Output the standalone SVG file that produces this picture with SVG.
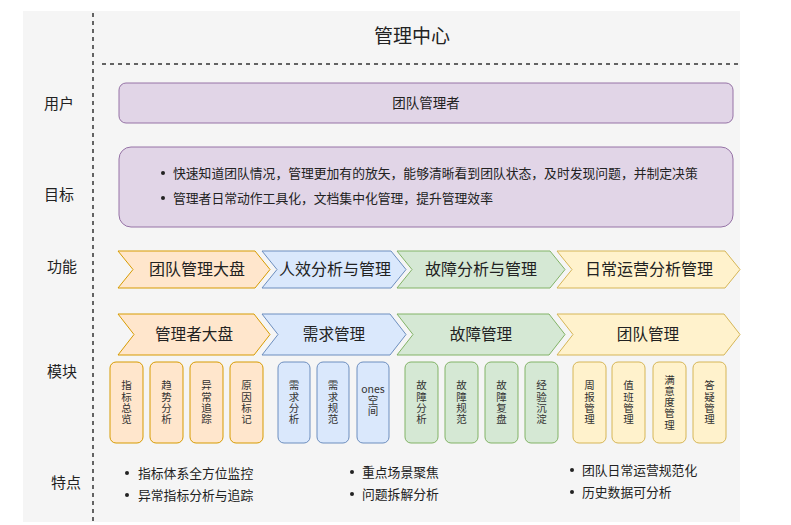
<svg xmlns="http://www.w3.org/2000/svg" width="791" height="525" viewBox="0 0 791 525">
<style>
text{font-family:"Noto Sans CJK SC","Noto Sans",sans-serif;fill:#222}
.lbl{font-size:15px;text-anchor:middle}
.fn{font-size:16px;text-anchor:middle}
.md{font-size:15.6px;text-anchor:middle}
.sm{font-size:10.5px;text-anchor:middle;fill:#333}
.v{font-size:10.5px;fill:#333;writing-mode:vertical-rl;text-anchor:middle;letter-spacing:0.7px}
.ft{font-size:12.8px}
.or{fill:#ffe6cc;stroke:#d79b00;stroke-width:1}
.bl{fill:#dae8fc;stroke:#6c8ebf;stroke-width:1}
.gr{fill:#d5e8d4;stroke:#82b366;stroke-width:1}
.ye{fill:#fff2cc;stroke:#d6b656;stroke-width:1}
.pu{fill:#e1d5e7;stroke:#9673a6;stroke-width:1}
.dash{stroke:#333;stroke-width:1.5;stroke-dasharray:4 4;fill:none}
</style>
<rect x="23" y="11" width="717" height="511" fill="#f5f5f5"/>
<g id="separators">
<line class="dash" x1="93" y1="13" x2="93" y2="525"/>
<line class="dash" x1="102" y1="64" x2="740" y2="64"/>
</g>
<g id="connectors"/>
<g id="title"><text x="412" y="43" style="font-size:19px" text-anchor="middle">管理中心</text></g>
<g id="row-labels">
<text class="lbl" x="59" y="109">用户</text>
<text class="lbl" x="59" y="200">目标</text>
<text class="lbl" x="62" y="272">功能</text>
<text class="lbl" x="62" y="377">模块</text>
<text class="lbl" x="66" y="488">特点</text>
</g>
<g id="user">
<rect class="pu" x="119" y="83" width="614" height="40" rx="7"/>
<text x="426" y="108" style="font-size:13.5px" text-anchor="middle">团队管理者</text>
</g>
<g id="goal">
<rect class="pu" x="119" y="147" width="614" height="80" rx="12"/>
<circle cx="163" cy="173" r="2" fill="#222"/>
<circle cx="163" cy="198" r="2" fill="#222"/>
<text class="ft" x="173" y="177.5">快速知道团队情况，管理更加有的放矢，能够清晰看到团队状态，及时发现问题，并制定决策</text>
<text class="ft" x="173" y="202.5">管理者日常动作工具化，文档集中化管理，提升管理效率</text>
</g>
<g id="func-1"><polygon class="or" points="118,251 255,251 270,269.5 255,288 118,288 133,269.5"/><text class="fn" x="197" y="275">团队管理大盘</text></g>
<g id="func-2"><polygon class="bl" points="262,251 391,251 406,269.5 391,288 262,288 277,269.5"/><text class="fn" x="335" y="275">人效分析与管理</text></g>
<g id="func-3"><polygon class="gr" points="397,251 550,251 565,269.5 550,288 397,288 412,269.5"/><text class="fn" x="481" y="275">故障分析与管理</text></g>
<g id="func-4"><polygon class="ye" points="557,251 725,251 740,269.5 725,288 557,288 572,269.5"/><text class="fn" x="649" y="275">日常运营分析管理</text></g>
<g id="mod-1"><polygon class="or" points="118,314 254,314 270,334.5 254,355 118,355 134,334.5"/><text class="md" x="194" y="340">管理者大盘</text></g>
<g id="mod-2"><polygon class="bl" points="262,314 390,314 406,334.5 390,355 262,355 278,334.5"/><text class="md" x="334" y="340">需求管理</text></g>
<g id="mod-3"><polygon class="gr" points="397,314 549,314 565,334.5 549,355 397,355 413,334.5"/><text class="md" x="481" y="340">故障管理</text></g>
<g id="mod-4"><polygon class="ye" points="557,314 724,314 740,334.5 724,355 557,355 573,334.5"/><text class="md" x="648" y="340">团队管理</text></g>
<g id="sub-1"><rect class="or" x="110" y="362" width="33" height="81" rx="6"/><text class="v" x="126.5" y="402.5">指标总览</text></g>
<g id="sub-2"><rect class="or" x="150" y="362" width="33" height="81" rx="6"/><text class="v" x="166.5" y="402.5">趋势分析</text></g>
<g id="sub-3"><rect class="or" x="190" y="362" width="33" height="81" rx="6"/><text class="v" x="206.5" y="402.5">异常追踪</text></g>
<g id="sub-4"><rect class="or" x="230" y="362" width="33" height="81" rx="6"/><text class="v" x="246.5" y="402.5">原因标记</text></g>
<g id="sub-5"><rect class="bl" x="278" y="362" width="32" height="81" rx="6"/><text class="v" x="294" y="402.5">需求分析</text></g>
<g id="sub-6"><rect class="bl" x="317" y="362" width="32" height="81" rx="6"/><text class="v" x="333" y="402.5">需求规范</text></g>
<g id="sub-7"><rect class="bl" x="357" y="362" width="32" height="81" rx="6"/><text class="sm" x="373" y="393">ones</text><text class="v" x="373" y="405.5">空间</text></g>
<g id="sub-8"><rect class="gr" x="405" y="362" width="33" height="81" rx="6"/><text class="v" x="421.5" y="402.5">故障分析</text></g>
<g id="sub-9"><rect class="gr" x="445" y="362" width="33" height="81" rx="6"/><text class="v" x="461.5" y="402.5">故障规范</text></g>
<g id="sub-10"><rect class="gr" x="485" y="362" width="33" height="81" rx="6"/><text class="v" x="501.5" y="402.5">故障复盘</text></g>
<g id="sub-11"><rect class="gr" x="525" y="362" width="33" height="81" rx="6"/><text class="v" x="541.5" y="402.5">经验沉淀</text></g>
<g id="sub-12"><rect class="ye" x="573" y="362" width="33" height="81" rx="6"/><text class="v" x="589.5" y="402.5">周报管理</text></g>
<g id="sub-13"><rect class="ye" x="612" y="362" width="33" height="81" rx="6"/><text class="v" x="628.5" y="402.5">值班管理</text></g>
<g id="sub-14"><rect class="ye" x="653" y="362" width="33" height="81" rx="6"/><text class="v" x="669.5" y="402.5">满意度管理</text></g>
<g id="sub-15"><rect class="ye" x="693" y="362" width="33" height="81" rx="6"/><text class="v" x="709.5" y="402.5">答疑管理</text></g>
<g id="features">
<circle cx="127" cy="473" r="2" fill="#222"/><text class="ft" x="138" y="477.5">指标体系全方位监控</text>
<circle cx="127" cy="495" r="2" fill="#222"/><text class="ft" x="138" y="499.5">异常指标分析与追踪</text>
<circle cx="352" cy="472" r="2" fill="#222"/><text class="ft" x="362" y="476.5">重点场景聚焦</text>
<circle cx="352" cy="494" r="2" fill="#222"/><text class="ft" x="362" y="498.5">问题拆解分析</text>
<circle cx="572" cy="470" r="2" fill="#222"/><text class="ft" x="582" y="474.5">团队日常运营规范化</text>
<circle cx="572" cy="492" r="2" fill="#222"/><text class="ft" x="582" y="496.5">历史数据可分析</text>
</g>
</svg>
